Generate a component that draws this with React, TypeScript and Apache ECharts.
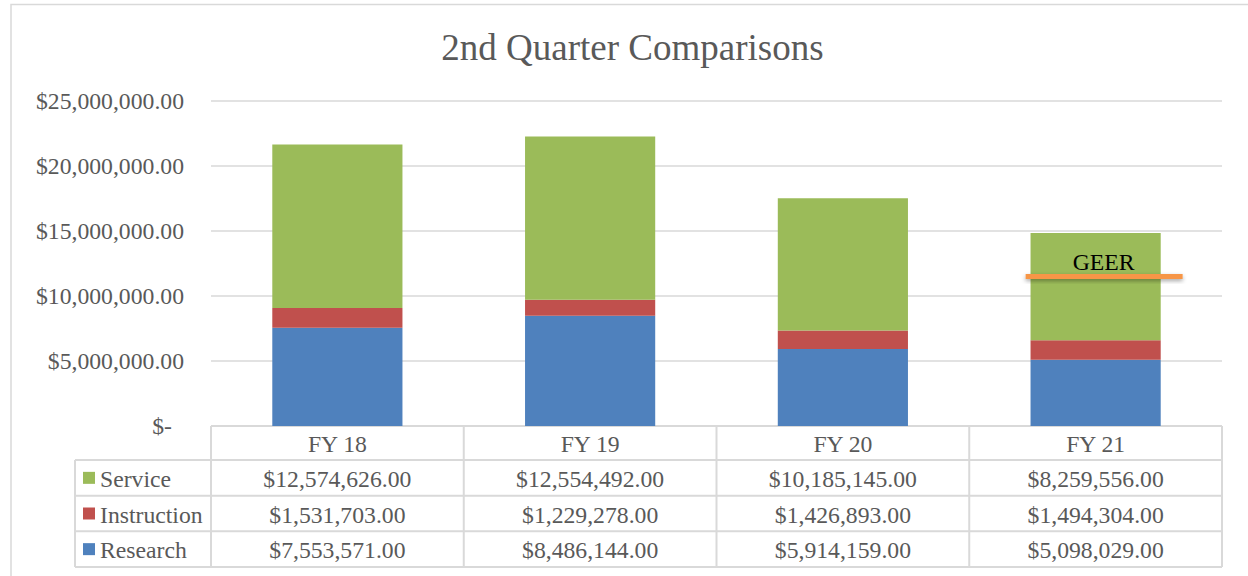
import React, { useEffect, useRef } from "react";
import * as echarts from "echarts";

const categories = ["FY 18", "FY 19", "FY 20", "FY 21"];
const seriesNames = ["Service", "Instruction", "Research"];
const serviceValues = [12574626, 12554492, 10185145, 8259556];
const instructionValues = [1531703, 1229278, 1426893, 1494304];
const researchValues = [7553571, 8486144, 5914159, 5098029];
const yMin = 0;
const yMax = 25000000;
const yInterval = 5000000;
const titleText = "2nd Quarter Comparisons";
const geerLabel = "GEER";
const geerValue = 11500000;
const geerCategory = "FY 21";

const FONT = "'Liberation Serif', 'Times New Roman', serif";
const TEXT = "#595959";
const LINE = "#d9d9d9";
const COLORS: Record<string, string> = {
  Service: "#9bbb59",
  Instruction: "#c0504d",
  Research: "#4f81bd",
};

const money = (v: number) =>
  "$" + v.toLocaleString("en-US", { minimumFractionDigits: 2, maximumFractionDigits: 2 });

export default function App() {
  const ref = useRef<HTMLDivElement>(null);
  useEffect(() => {
    if (!ref.current) return;
    const chart = echarts.init(ref.current, undefined, { renderer: "svg" });
    const gridLeft = 211;
    const gridRight = 26;
    const gridTop = 101;
    const gridBottom = 150;
    const W = 1248;
    chart.setOption({
      animation: false,
      backgroundColor: "#ffffff",
      grid: { left: gridLeft, right: gridRight, top: gridTop, bottom: gridBottom },
      xAxis: {
        type: "category",
        data: categories,
        axisLine: { show: false },
        axisTick: { show: false },
        axisLabel: { show: false },
      },
      yAxis: {
        type: "value",
        min: yMin,
        max: yMax,
        interval: yInterval,
        axisLine: { show: false },
        axisTick: { show: false },
        splitLine: { lineStyle: { color: LINE, width: 1.5 } },
        axisLabel: {
          margin: 27,
          fontFamily: FONT,
          fontSize: 23.7,
          color: TEXT,
          formatter: (v: number) => (v === 0 ? "{d|$-}" : money(v)),
          rich: { d: { fontFamily: FONT, fontSize: 23.7, color: TEXT, padding: [0, 12, 0, 0] } },
        },
      },
      series: [
        { name: "Research", type: "bar", stack: "t", data: researchValues, barCategoryGap: "48.5%", itemStyle: { color: COLORS.Research } },
        { name: "Instruction", type: "bar", stack: "t", data: instructionValues, itemStyle: { color: COLORS.Instruction } },
        { name: "Service", type: "bar", stack: "t", data: serviceValues, itemStyle: { color: COLORS.Service } },
      ],
    });

    const right = W - gridRight;
    const colW = (right - gridLeft) / categories.length;
    const rowTops = [426, 460, 495.7, 531.3, 567];
    const tableLeft = 75;
    const g: any[] = [];
    g.push({ type: "rect", shape: { x: 11, y: 4.5, width: 1300, height: 700 }, style: { fill: "none", stroke: LINE, lineWidth: 1.5 }, silent: true });
    g.push({ type: "text", x: 632.5, y: 47, style: { text: titleText, font: `37px ${FONT}`, fill: TEXT, align: "center", verticalAlign: "middle" } });
    g.push({ type: "line", shape: { x1: gridLeft, y1: rowTops[0], x2: right, y2: rowTops[0] }, style: { stroke: LINE, lineWidth: 2 } });
    for (let i = 1; i < rowTops.length; i++) {
      g.push({ type: "line", shape: { x1: tableLeft, y1: rowTops[i], x2: right, y2: rowTops[i] }, style: { stroke: LINE, lineWidth: 2 } });
    }
    g.push({ type: "line", shape: { x1: tableLeft, y1: rowTops[1], x2: tableLeft, y2: rowTops[4] }, style: { stroke: LINE, lineWidth: 2 } });
    for (let c = 0; c <= categories.length; c++) {
      const x = gridLeft + c * colW;
      g.push({ type: "line", shape: { x1: x, y1: rowTops[0], x2: x, y2: rowTops[4] }, style: { stroke: LINE, lineWidth: 2 } });
    }
    const rowsData = [serviceValues, instructionValues, researchValues];
    categories.forEach((cat, c) => {
      const cx = chart.convertToPixel({ xAxisIndex: 0 }, cat) as number;
      g.push({ type: "text", x: cx, y: (rowTops[0] + rowTops[1]) / 2 + 1, style: { text: cat, font: `23.7px ${FONT}`, fill: TEXT, align: "center", verticalAlign: "middle" } });
      rowsData.forEach((arr, r) => {
        g.push({ type: "text", x: cx, y: (rowTops[r + 1] + rowTops[r + 2]) / 2 + 1, style: { text: money(arr[c]), font: `23.7px ${FONT}`, fill: TEXT, align: "center", verticalAlign: "middle" } });
      });
    });
    seriesNames.forEach((name, r) => {
      const cy = (rowTops[r + 1] + rowTops[r + 2]) / 2;
      g.push({ type: "rect", shape: { x: 83, y: cy - 6, width: 12, height: 12 }, style: { fill: COLORS[name] } });
      g.push({ type: "text", x: 100, y: cy + 1, style: { text: name, font: `23.7px ${FONT}`, fill: TEXT, align: "left", verticalAlign: "middle" } });
    });
    const p = chart.convertToPixel({ xAxisIndex: 0, yAxisIndex: 0 }, [geerCategory, geerValue]) as number[];
    g.push({
      type: "rect",
      shape: { x: p[0] - 70, y: p[1] - 2.5, width: 157, height: 5 },
      style: { fill: "#f79646", shadowBlur: 4, shadowOffsetY: 2, shadowColor: "rgba(0,0,0,0.35)" },
      z: 10,
    });
    g.push({ type: "text", x: p[0] + 8, y: p[1] - 15, style: { text: geerLabel, font: `23.7px ${FONT}`, fill: "#000000", align: "center", verticalAlign: "middle" }, z: 10 });
    chart.setOption({ graphic: { elements: g } });
    return () => chart.dispose();
  }, []);
  return <div ref={ref} style={{ position: "fixed", left: 0, top: 0, width: 1248, height: 576 }} />;
}
